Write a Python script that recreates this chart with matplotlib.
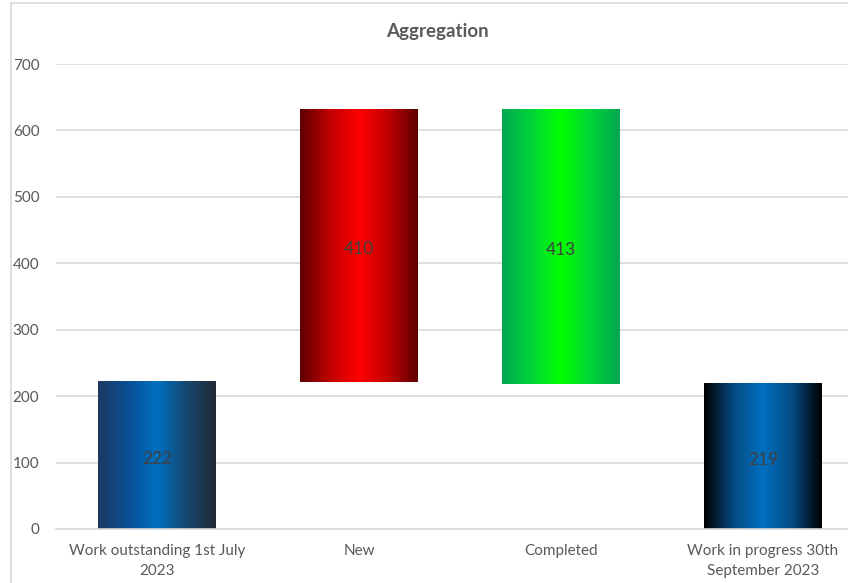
#! /usr/bin/env python3
import numpy as np
import matplotlib
matplotlib.use("Agg")
import matplotlib.pyplot as plt
from matplotlib.colors import LinearSegmentedColormap
from matplotlib.patches import Rectangle

categories = ["Work outstanding 1st July\n2023", "New", "Completed",
              "Work in progress 30th\nSeptember 2023"]
values = [222, 410, 413, 219]
kinds = ["total", "up", "down", "total"]

# gradient stops per bar (left -> centre -> right)
gradients = [
    ["#1f3864", "#0a4f94", "#0070c0", "#15466f", "#232a35"],
    ["#5e0000", "#c00000", "#ff0000", "#c00000", "#5e0000"],
    ["#00a650", "#00d53a", "#00ff00", "#00d53a", "#00a650"],
    ["#000000", "#064a82", "#0070c0", "#064a82", "#000000"],
]


def main():
    plt.rcParams["font.family"] = ["Lato", "DejaVu Sans"]
    fig = plt.figure(figsize=(8.48, 5.83), dpi=100)
    ax = fig.add_axes([56 / 848, 1 - 529 / 583, 808 / 848, 465 / 583])

    # outer chart border (cropped on the right/bottom)
    fig.patches.append(Rectangle((11 / 848, -0.1), 1.2, 1 - 3 / 583 + 0.1,
                                 transform=fig.transFigure, fill=False,
                                 edgecolor="#d9d9d9", linewidth=1.2))

    width = 0.58
    running = 0
    for i, (v, kind) in enumerate(zip(values, kinds)):
        if kind == "total":
            bottom, top = 0, v
            running = v
        elif kind == "up":
            bottom, top = running, running + v
            running = top
        else:
            bottom, top = running - v, running
            running = bottom
        cmap = LinearSegmentedColormap.from_list(f"g{i}", gradients[i])
        grad = np.linspace(0, 1, 256).reshape(1, -1)
        ax.imshow(grad, cmap=cmap, aspect="auto", zorder=2,
                  extent=(i - width / 2, i + width / 2, bottom, top))
        ax.text(i, (bottom + top) / 2 - 5, str(v), ha="center", va="center",
                fontsize=12.5, color="#404040", zorder=3)

    ax.set_xlim(-0.5, 3.5)
    ax.set_ylim(0, 700)
    ax.set_yticks(range(0, 701, 100))
    ax.set_xticks(range(len(categories)))
    ax.set_xticklabels(categories, linespacing=1.55)
    ax.grid(axis="y", color="#d9d9d9", linewidth=1.2, zorder=0)
    ax.set_axisbelow(True)
    for s in ["top", "right", "left"]:
        ax.spines[s].set_visible(False)
    ax.spines["bottom"].set_color("#d9d9d9")
    ax.spines["bottom"].set_linewidth(1.2)
    ax.tick_params(axis="both", length=0, labelsize=11, labelcolor="#595959")
    ax.tick_params(axis="y", pad=12)
    ax.tick_params(axis="x", pad=11)

    fig.text(437 / 848, 1 - 31 / 583, "Aggregation", ha="center", va="center",
             fontsize=13.5, fontweight="bold", color="#595959")

    fig.savefig("out.png", dpi=100)
    plt.close(fig)


if __name__ == "__main__":
    main()
